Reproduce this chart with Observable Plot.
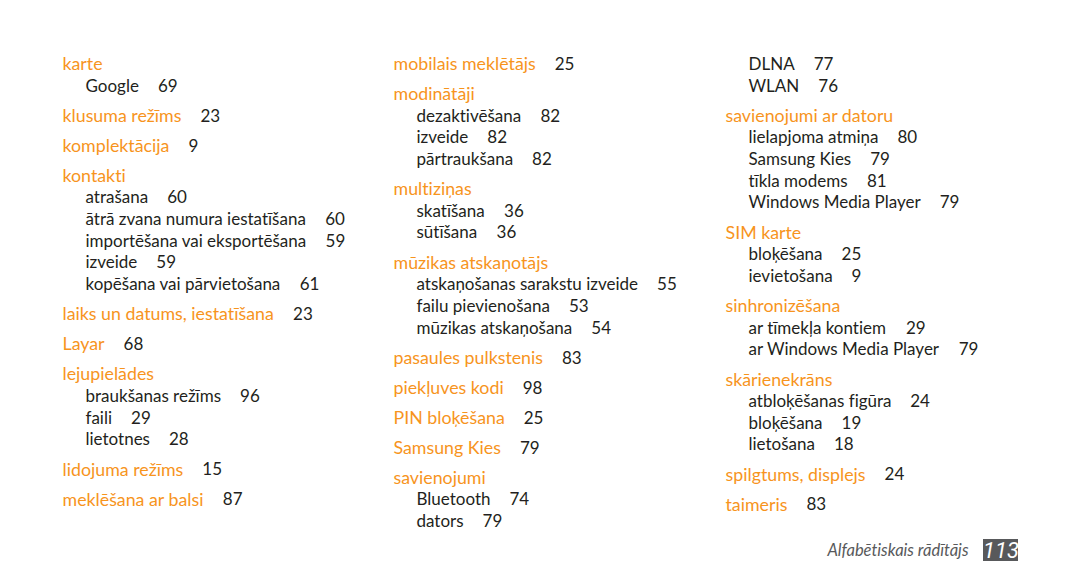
<!DOCTYPE html>
<html>
<head>
<meta charset="utf-8">
<script src="https://cdn.jsdelivr.net/npm/d3@7"></script>
<script src="https://cdn.jsdelivr.net/npm/@observablehq/plot@0.6"></script>
<style>
  html, body { margin: 0; padding: 0; background: #ffffff; }
  #chart svg { display: block; }
  #chart svg text { font-variant-ligatures: none; font-feature-settings: "liga" 0, "clig" 0; }
</style>
</head>
<body>
<div id="chart"></div>
<script>
// ---- Index entries (level 0 = heading, level 1 = sub-entry), page numbers ----
const column1 = [
  ["karte", 0, null],
  ["Google", 1, 69],
  ["klusuma režīms", 0, 23],
  ["komplektācija", 0, 9],
  ["kontakti", 0, null],
  ["atrašana", 1, 60],
  ["ātrā zvana numura iestatīšana", 1, 60],
  ["importēšana vai eksportēšana", 1, 59],
  ["izveide", 1, 59],
  ["kopēšana vai pārvietošana", 1, 61],
  ["laiks un datums, iestatīšana", 0, 23],
  ["Layar", 0, 68],
  ["lejupielādes", 0, null],
  ["braukšanas režīms", 1, 96],
  ["faili", 1, 29],
  ["lietotnes", 1, 28],
  ["lidojuma režīms", 0, 15],
  ["meklēšana ar balsi", 0, 87]
];
const column2 = [
  ["mobilais meklētājs", 0, 25],
  ["modinātāji", 0, null],
  ["dezaktivēšana", 1, 82],
  ["izveide", 1, 82],
  ["pārtraukšana", 1, 82],
  ["multiziņas", 0, null],
  ["skatīšana", 1, 36],
  ["sūtīšana", 1, 36],
  ["mūzikas atskaņotājs", 0, null],
  ["atskaņošanas sarakstu izveide", 1, 55],
  ["failu pievienošana", 1, 53],
  ["mūzikas atskaņošana", 1, 54],
  ["pasaules pulkstenis", 0, 83],
  ["piekļuves kodi", 0, 98],
  ["PIN bloķēšana", 0, 25],
  ["Samsung Kies", 0, 79],
  ["savienojumi", 0, null],
  ["Bluetooth", 1, 74],
  ["dators", 1, 79]
];
const column3 = [
  ["DLNA", 1, 77],
  ["WLAN", 1, 76],
  ["savienojumi ar datoru", 0, null],
  ["lielapjoma atmiņa", 1, 80],
  ["Samsung Kies", 1, 79],
  ["tīkla modems", 1, 81],
  ["Windows Media Player", 1, 79],
  ["SIM karte", 0, null],
  ["bloķēšana", 1, 25],
  ["ievietošana", 1, 9],
  ["sinhronizēšana", 0, null],
  ["ar tīmekļa kontiem", 1, 29],
  ["ar Windows Media Player", 1, 79],
  ["skārienekrāns", 0, null],
  ["atbloķēšanas figūra", 1, 24],
  ["bloķēšana", 1, 19],
  ["lietošana", 1, 18],
  ["spilgtums, displejs", 0, 24],
  ["taimeris", 0, 83]
];
const footerLabel = "Alfabētiskais rādītājs";
const pageNumber = "113";

// ---- Layout (styling, not data) ----
const W = 1080, H = 586;
const FONT = "Lato";
const headSize = 17.8, subSize = 17;
const orange = "#f7941d", ink = "#231f20";
const columnLeft = [62, 393, 725];
const indent = 23, topY = 64, subStep = 21.7, headStep = 30, numGap = 19;

const ctx = document.createElement("canvas").getContext("2d");
function measure(text, size) {
  ctx.font = `${size}px ${FONT}`;
  return ctx.measureText(text).width;
}

const rows = [];
[column1, column2, column3].forEach((col, ci) => {
  let y = topY;
  col.forEach(([term, level, page], i) => {
    if (i > 0) y += level === 0 ? headStep : subStep;
    const x = columnLeft[ci] + level * indent;
    const size = level === 0 ? headSize : subSize;
    rows.push({term, level, page, x, y, size, numX: x + measure(term, size) + numGap});
  });
});
const heads = rows.filter(d => d.level === 0);
const subs = rows.filter(d => d.level === 1);
const numbered = rows.filter(d => d.page != null);

const footer = [{label: footerLabel, page: pageNumber, x: 968, y: 550, bx1: 983, bx2: 1018, by1: 539, by2: 561}];

const chart = Plot.plot({
  width: W, height: H,
  margin: 0,
  x: {domain: [0, W], range: [0, W], axis: null},
  y: {domain: [0, H], range: [0, H], axis: null},
  style: {background: "#ffffff"},
  marks: [
    Plot.text(heads, {x: "x", y: "y", text: "term", textAnchor: "start", fill: orange, fontSize: headSize, fontFamily: FONT}),
    Plot.text(subs, {x: "x", y: "y", text: "term", textAnchor: "start", fill: ink, fontSize: subSize, fontFamily: FONT}),
    Plot.text(numbered, {x: "numX", y: "y", text: d => String(d.page), textAnchor: "start", fill: ink, fontSize: subSize, fontFamily: FONT}),
    Plot.text(footer, {x: "x", y: "y", text: "label", textAnchor: "end", fill: "#58595b", fontSize: 16.5, fontStyle: "italic", fontFamily: FONT}),
    Plot.rect(footer, {x1: "bx1", x2: "bx2", y1: "by1", y2: "by2", fill: "#58595b"}),
    Plot.text(footer, {x: d => (d.bx1 + d.bx2) / 2, y: "y", text: "page", fill: "#ffffff", fontSize: 22, fontStyle: "italic", fontFamily: "Liberation Sans Narrow, Roboto"})
  ]
});
document.getElementById("chart").appendChild(chart);
</script>
</body>
</html>
